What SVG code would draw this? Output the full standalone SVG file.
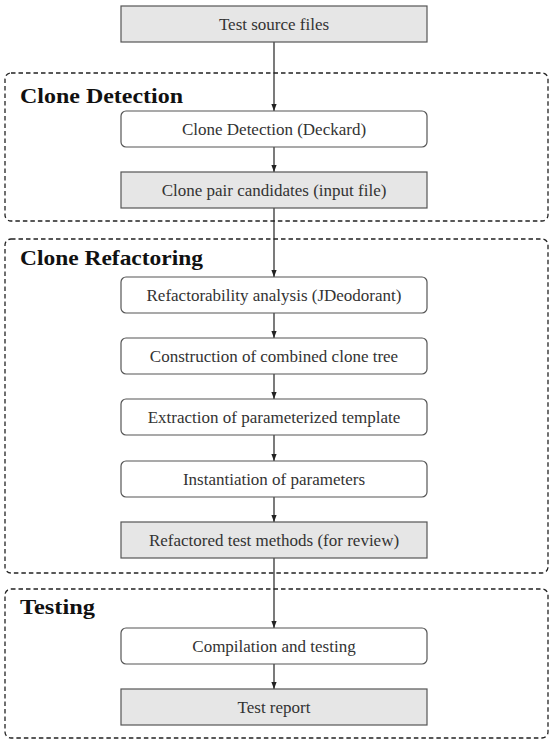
<svg xmlns="http://www.w3.org/2000/svg" width="555" height="747" viewBox="0 0 555 747">
<defs>
<marker id="ah" viewBox="0 0 8 8" refX="8" refY="4" markerWidth="7" markerHeight="7" markerUnits="userSpaceOnUse" orient="auto">
<path d="M0,1 L8,4 L0,7 z" fill="#222"/>
</marker>
</defs>
<style>
.grp{fill:none;stroke:#222;stroke-width:1.3;stroke-dasharray:4.5 3}
.gl{font-family:"Liberation Serif","DejaVu Serif",serif;font-weight:bold;font-size:21px;fill:#111}
.box{stroke:#555;stroke-width:1.2}
.data{fill:#e6e6e6}
.proc{fill:#fff}
.t{font-family:"Liberation Serif","DejaVu Serif",serif;font-size:17px;fill:#333;text-anchor:middle;dominant-baseline:central}
.c{stroke:#222;stroke-width:1.2;fill:none;marker-end:url(#ah)}
</style>
<g id="group-detection"><rect class="grp" x="5" y="73" width="543" height="148" rx="6"/><text class="gl" x="20" y="103" textLength="163" lengthAdjust="spacingAndGlyphs">Clone Detection</text></g>
<g id="group-refactoring"><rect class="grp" x="5" y="239" width="543" height="334" rx="6"/><text class="gl" x="20" y="265" textLength="183" lengthAdjust="spacingAndGlyphs">Clone Refactoring</text></g>
<g id="group-testing"><rect class="grp" x="5" y="589" width="543" height="149" rx="6"/><text class="gl" x="20" y="614" textLength="75" lengthAdjust="spacingAndGlyphs">Testing</text></g>
<g id="connectors">
<line class="c" x1="274" y1="42" x2="274" y2="111"/>
<line class="c" x1="274" y1="147" x2="274" y2="172"/>
<line class="c" x1="274" y1="208" x2="274" y2="277"/>
<line class="c" x1="274" y1="313" x2="274" y2="338"/>
<line class="c" x1="274" y1="374" x2="274" y2="399"/>
<line class="c" x1="274" y1="435" x2="274" y2="461"/>
<line class="c" x1="274" y1="497" x2="274" y2="522"/>
<line class="c" x1="274" y1="558" x2="274" y2="628"/>
<line class="c" x1="274" y1="664" x2="274" y2="689"/>
</g>
<g id="n-source"><rect class="box data" x="121" y="6" width="306" height="36"/><text class="t" x="274" y="24">Test source files</text></g>
<g id="n-deckard"><rect class="box proc" x="121" y="111" width="306" height="36" rx="5"/><text class="t" x="274" y="129">Clone Detection (Deckard)</text></g>
<g id="n-pairs"><rect class="box data" x="121" y="172" width="306" height="36"/><text class="t" x="274" y="190">Clone pair candidates (input file)</text></g>
<g id="n-refac"><rect class="box proc" x="121" y="277" width="306" height="36" rx="5"/><text class="t" x="274" y="295">Refactorability analysis (JDeodorant)</text></g>
<g id="n-tree"><rect class="box proc" x="121" y="338" width="306" height="36" rx="5"/><text class="t" x="274" y="356">Construction of combined clone tree</text></g>
<g id="n-template"><rect class="box proc" x="121" y="399" width="306" height="36" rx="5"/><text class="t" x="274" y="417">Extraction of parameterized template</text></g>
<g id="n-inst"><rect class="box proc" x="121" y="461" width="306" height="36" rx="5"/><text class="t" x="274" y="479">Instantiation of parameters</text></g>
<g id="n-methods"><rect class="box data" x="121" y="522" width="306" height="36"/><text class="t" x="274" y="540">Refactored test methods (for review)</text></g>
<g id="n-compile"><rect class="box proc" x="121" y="628" width="306" height="36" rx="5"/><text class="t" x="274" y="646">Compilation and testing</text></g>
<g id="n-report"><rect class="box data" x="121" y="689" width="306" height="36"/><text class="t" x="274" y="707">Test report</text></g>
</svg>
